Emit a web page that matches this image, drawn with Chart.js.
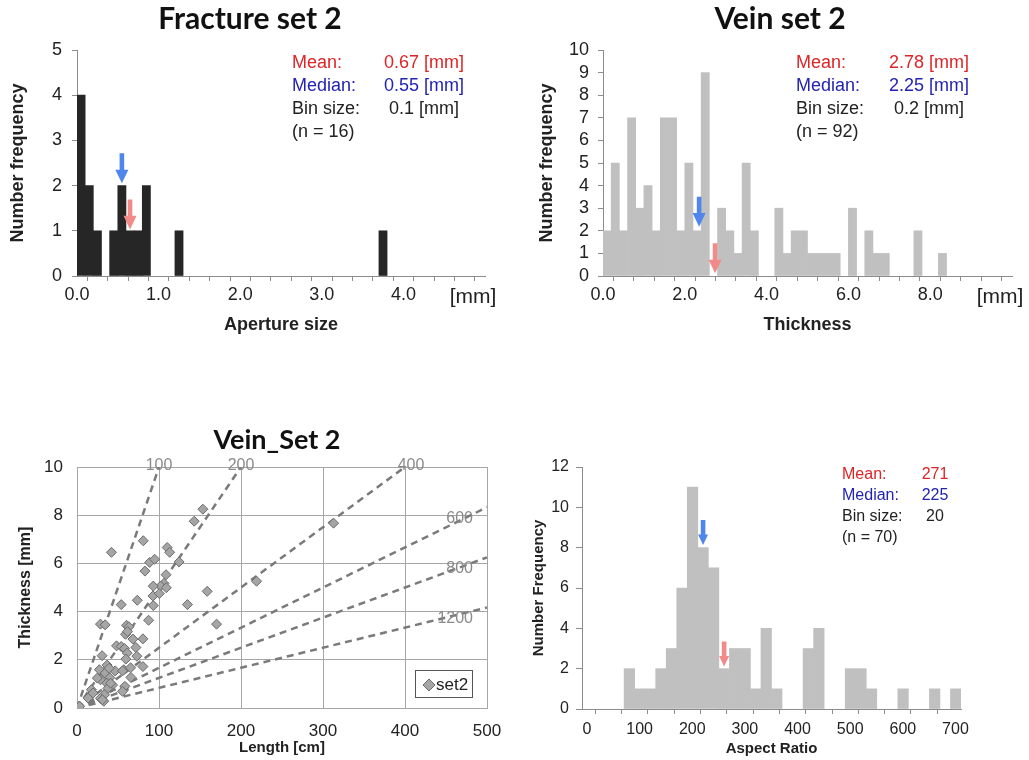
<!DOCTYPE html>
<html>
<head>
<meta charset="utf-8">
<script src="https://cdn.jsdelivr.net/npm/chart.js@4.4.0/dist/chart.umd.min.js"></script>
<style>
body { margin: 0; background: #fff; width: 1029px; height: 760px; position: relative; overflow: hidden; }
canvas { position: absolute; }
</style>
</head>
<body>
<canvas id="frac" width="515" height="340" style="left:0;top:0"></canvas>
<canvas id="vein" width="514" height="340" style="left:515px;top:0"></canvas>
<canvas id="scat" width="515" height="380" style="left:0;top:380px"></canvas>
<canvas id="asp" width="514" height="380" style="left:515px;top:380px"></canvas>
<script>
// Fracture set 2 - aperture histogram (bin 0.1 mm, lower bin edge)
const fracBins = [0.0, 0.1, 0.2, 0.4, 0.5, 0.6, 0.7, 0.8, 1.2, 3.7];
const fracCounts = [4, 2, 1, 1, 2, 1, 1, 2, 1, 1];
const fracStats = ['0.67 [mm]', '0.55 [mm]', '0.1 [mm]'];
const fracN = '(n = 16)';
const fracArrowX = [0.55, 0.65];   // median, mean
const fracArrowTip = [2.05, 1.03];

// Vein set 2 - thickness histogram (bin 0.2 mm)
const veinBins = [0.0, 0.2, 0.4, 0.6, 0.8, 1.0, 1.2, 1.4, 1.6, 1.8, 2.0, 2.2, 2.4, 2.8, 3.0, 3.2,
  3.4, 3.6, 4.2, 4.4, 4.6, 4.8, 5.0, 5.2, 5.4, 5.6, 6.0, 6.4, 6.6, 6.8, 7.6, 8.2];
const veinCounts = [2, 5, 2, 7, 3, 4, 2, 7, 7, 2, 5, 2, 9, 3, 2, 1,
  5, 2, 3, 1, 2, 2, 1, 1, 1, 1, 3, 2, 1, 1, 2, 1];
const veinStats = ['2.78 [mm]', '2.25 [mm]', '0.2 [mm]'];
const veinN = '(n = 92)';
const veinArrowX = [2.35, 2.74];
const veinArrowTip = [2.18, 0.12];

// Vein_Set 2 - length vs thickness
const setLen = [42, 80.8, 82.9, 88.6, 94.7, 110, 113, 124.5, 142.9, 153.5, 108.6, 106, 102, 108.9, 93,
  92.7, 93, 87.3, 73.5, 53.9, 134.7, 158.8, 170.2, 219, 312.9, 28.6, 34.3, 60.4, 63.3, 59.2, 68.2, 80.4,
  48.2, 53.9, 58, 71.8, 61.2, 73, 59.6, 30.6, 80.4, 57.1, 46.5, 65.3, 36.7, 27.3, 28.6, 34.3, 40, 36.3,
  43.3, 65.7, 58.4, 37.6, 33.5, 28.6, 17.6, 19.6, 13.5, 3.3, 32.7, 41, 55.5, 31, 24.8, 55.5, 39.2, 61.6, 100.4];
const setThk = [6.46, 6.94, 5.68, 6.04, 6.17, 6.66, 6.46, 6.06, 7.75, 8.25, 5.53, 5.17, 5.06, 4.99, 5.06,
  4.65, 4.25, 3.64, 4.47, 4.29, 4.29, 4.84, 3.48, 5.26, 7.67, 3.48, 3.45, 3.43, 3.37, 3.06, 2.86, 2.87,
  2.58, 2.55, 2.47, 2.51, 2.28, 2.15, 2.03, 2.17, 1.72, 1.59, 1.54, 1.67, 1.78, 1.59, 1.17, 1.45, 1.26, 1.03,
  0.95, 1.27, 0.90, 0.81, 0.55, 0.40, 0.76, 0.62, 0.41, 0.07, 0.28, 1.03, 0.69, 0.34, 1.24, 1.54, 1.65, 3.17, 4.75];
const ratioNames = ['100', '200', '400', '600', '800', '1200'];
const ratioEndLen = [100, 200, 400, 500, 500, 500];
const ratioEndThk = [10, 10, 10, 8.33, 6.25, 4.17];

// Aspect ratio histogram (bin 20)
const aspBins = [80, 100, 120, 140, 160, 180, 200, 220, 240, 260, 280, 300, 320, 340, 360, 420, 440,
  500, 520, 540, 600, 660, 700];
const aspCounts = [2, 1, 1, 2, 3, 6, 11, 8, 7, 2, 3, 3, 1, 4, 1, 3, 4, 2, 2, 1, 1, 1, 1];
const aspStats = ['271', '225', '20'];
const aspN = '(n = 70)';
const aspArrowX = [230, 270];
const aspArrowTip = [8.13, 2.11];

const statLabels = ['Mean:', 'Median:', 'Bin size:'];

const INK = '#222';
const AXIS = '#8c8c8c';
const RED = '#dd2427';
const BLUE = '#2323b2';
const ARROW_BLUE = '#4f86ec';
const ARROW_RED = '#f28a8a';
const SANS = '"Liberation Sans", Arial, sans-serif';
const TITLE_FONT = 'bold 30px Lato, "Liberation Sans", sans-serif';

Chart.defaults.font.family = SANS;
Chart.defaults.color = INK;

function drawArrow(ctx, x, tipY, len, head, color) {
  const hl = head * 1.05, sw = 2.3;
  const top = tipY - len;
  ctx.fillStyle = color;
  ctx.beginPath();
  ctx.moveTo(x - sw, top);
  ctx.lineTo(x + sw, top);
  ctx.lineTo(x + sw, tipY - hl);
  ctx.lineTo(x + head / 2, tipY - hl);
  ctx.lineTo(x, tipY);
  ctx.lineTo(x - head / 2, tipY - hl);
  ctx.lineTo(x - sw, tipY - hl);
  ctx.closePath();
  ctx.fill();
}

function overlay(o) {
  return {
    id: 'overlay',
    afterDatasetsDraw(chart) {
      const ctx = chart.ctx, xs = chart.scales.x, ys = chart.scales.y;
      ctx.save();
      (o.arrows || []).forEach(a => {
        drawArrow(ctx, xs.getPixelForValue(a.x), ys.getPixelForValue(a.tip), a.len, a.head, a.color);
      });
      if (o.extra) o.extra(chart, ctx, xs, ys);
      ctx.restore();
    },
    afterDraw(chart) {
      const ctx = chart.ctx;
      ctx.save();
      ctx.textBaseline = 'middle';
      if (o.title) {
        ctx.font = o.title.font;
        ctx.fillStyle = '#111';
        ctx.textAlign = 'center';
        ctx.fillText(o.title.text, o.title.x, o.title.y);
      }
      if (o.stats) {
        const s = o.stats;
        ctx.font = s.font;
        const colors = [RED, BLUE, INK];
        statLabels.forEach((lab, i) => {
          const y = s.y + i * s.gap;
          ctx.fillStyle = colors[i];
          ctx.textAlign = 'left';
          ctx.fillText(lab, s.lx, y);
          ctx.textAlign = 'center';
          ctx.fillText(s.values[i], s.vx, y);
        });
        ctx.fillStyle = INK;
        ctx.textAlign = 'left';
        ctx.fillText(s.n, s.lx, s.y + 3 * s.gap);
      }
      if (o.unit) {
        ctx.font = '21px ' + SANS;
        ctx.fillStyle = INK;
        ctx.textAlign = 'center';
        ctx.fillText('[mm]', o.unit.x, o.unit.y);
      }
      ctx.restore();
    }
  };
}

function histDataset(bins, counts, half, color) {
  return {
    type: 'bar',
    data: bins.map((b, i) => ({ x: b + half, y: counts[i] })),
    backgroundColor: color,
    borderWidth: 0,
    barPercentage: 1,
    categoryPercentage: 1
  };
}

function histScales(o) {
  return {
    x: {
      type: 'linear', min: 0, max: o.xMax, offset: false,
      afterFit: s => { s.height = o.xHeight; },
      grid: { drawOnChartArea: false, tickLength: 5, color: AXIS },
      border: { color: AXIS },
      ticks: {
        stepSize: o.xStep, autoSkip: false, includeBounds: false, maxRotation: 0, padding: o.xPad || 3,
        labelOffset: o.labelOffset || 0,
        font: { size: o.tickSize }, color: INK, callback: o.xLabel
      },
      title: {
        display: true, text: o.xTitle, color: INK,
        font: { size: o.titleSize, weight: 'bold' }, padding: { top: 0, bottom: o.xTitlePad }
      }
    },
    y: {
      min: 0, max: o.yMax,
      afterFit: s => { s.width = o.yWidth; },
      grid: { drawOnChartArea: false, tickLength: o.yTick || 5, color: AXIS },
      border: { color: AXIS },
      ticks: { stepSize: o.yStep, autoSkip: false, padding: o.yPad, font: { size: o.tickSize }, color: INK },
      title: {
        display: true, text: o.yTitle, color: INK,
        font: { size: o.titleSize, weight: 'bold' }, padding: { top: o.yTitlePad, bottom: 0 }
      }
    }
  };
}

const common = {
  responsive: false,
  animation: false,
  devicePixelRatio: 1,
  plugins: { legend: { display: false }, tooltip: { enabled: false } }
};

// ---- Fracture set 2
new Chart(document.getElementById('frac'), {
  type: 'bar',
  data: { datasets: [histDataset(fracBins, fracCounts, 0.05, '#262626')] },
  options: Object.assign({}, common, {
    layout: { padding: { top: 50, left: 0, right: 30, bottom: 0 } },
    scales: histScales({
      xMax: 5, xStep: 0.25, xHeight: 64, xTitle: 'Aperture size', xTitlePad: 4,
      xLabel: v => (Number.isInteger(v) && v < 5) ? v.toFixed(1) : '',
      yMax: 5, yStep: 1, yWidth: 77, yPad: 10, yTitle: 'Number frequency', yTitlePad: 7,
      tickSize: 18, titleSize: 18
    })
  }),
  plugins: [overlay({
    title: { text: 'Fracture set 2', x: 250, y: 19, font: TITLE_FONT },
    stats: { font: '18px ' + SANS, lx: 292, vx: 424, y: 63, gap: 23, values: fracStats, n: fracN },
    unit: { x: 473, y: 297 },
    arrows: [
      { x: fracArrowX[0], tip: fracArrowTip[0], len: 30, head: 13, color: ARROW_BLUE },
      { x: fracArrowX[1], tip: fracArrowTip[1], len: 30, head: 13, color: ARROW_RED }
    ]
  })]
});

// ---- Vein set 2
new Chart(document.getElementById('vein'), {
  type: 'bar',
  data: { datasets: [histDataset(veinBins, veinCounts, 0.1, '#c0c0c0')] },
  options: Object.assign({}, common, {
    layout: { padding: { top: 50, left: 0, right: 17, bottom: 0 } },
    scales: histScales({
      xMax: 10, xStep: 0.5, xHeight: 64, xTitle: 'Thickness', xTitlePad: 4,
      xLabel: v => (Number.isInteger(v) && v % 2 === 0 && v < 10) ? v.toFixed(1) : '',
      yMax: 10, yStep: 1, yWidth: 88, yPad: 9, yTitle: 'Number frequency', yTitlePad: 21,
      tickSize: 18, titleSize: 18
    })
  }),
  plugins: [overlay({
    title: { text: 'Vein set 2', x: 265, y: 19, font: TITLE_FONT },
    stats: { font: '18px ' + SANS, lx: 281, vx: 414, y: 63, gap: 23, values: veinStats, n: veinN },
    unit: { x: 485, y: 297 },
    arrows: [
      { x: veinArrowX[0], tip: veinArrowTip[0], len: 30, head: 13, color: ARROW_BLUE },
      { x: veinArrowX[1], tip: veinArrowTip[1], len: 30, head: 13, color: ARROW_RED }
    ]
  })]
});

// ---- Vein_Set 2 scatter
const GRID = '#a6a6a6';
const ratioSets = ratioNames.map((name, i) => ({
  type: 'line',
  label: name,
  data: [{ x: 0, y: 0 }, { x: ratioEndLen[i], y: ratioEndThk[i] }],
  borderColor: '#7a7a7a',
  borderWidth: 2.5,
  borderDash: [7, 5],
  pointRadius: 0,
  fill: false
}));

new Chart(document.getElementById('scat'), {
  type: 'scatter',
  data: {
    datasets: [{
      label: 'set2',
      data: setLen.map((l, i) => ({ x: l, y: setThk[i] })),
      pointStyle: 'rectRot',
      pointRadius: 5,
      backgroundColor: '#a5a5a5',
      borderColor: '#6a6a6a',
      borderWidth: 1
    }].concat(ratioSets)
  },
  options: Object.assign({}, common, {
    layout: { padding: { top: 87, left: 0, right: 28, bottom: 0 } },
    scales: {
      x: {
        type: 'linear', min: 0, max: 500,
        afterFit: s => { s.height = 52; },
        grid: { color: GRID, drawTicks: false },
        border: { color: GRID },
        ticks: { stepSize: 100, padding: 13, font: { size: 17 }, color: INK },
        title: { display: true, text: 'Length [cm]', color: INK, font: { size: 15, weight: 'bold' }, padding: { top: 0, bottom: 3 } }
      },
      y: {
        min: 0, max: 10,
        afterFit: s => { s.width = 77; },
        grid: { color: GRID, drawTicks: false },
        border: { color: GRID },
        ticks: { stepSize: 2, padding: 14, font: { size: 17 }, color: INK },
        title: { display: true, text: 'Thickness [mm]', color: INK, font: { size: 16, weight: 'bold' }, padding: { top: 16, bottom: 0 } }
      }
    }
  }),
  plugins: [overlay({
    title: { text: 'Vein_Set 2', x: 277, y: 60, font: 'bold 27px Lato, "Liberation Sans", sans-serif' },
    extra(chart, ctx, xs, ys) {
      // ratio labels at the line ends
      ctx.font = '16px ' + SANS;
      ctx.fillStyle = '#8a8a8a';
      ctx.textBaseline = 'middle';
      ratioNames.forEach((name, i) => {
        const px = xs.getPixelForValue(ratioEndLen[i]);
        const py = ys.getPixelForValue(ratioEndThk[i]);
        if (ratioEndThk[i] >= 10) {
          ctx.textAlign = 'center';
          ctx.fillText(name, px + (i === 2 ? 6 : 0), py - 1);
        } else {
          ctx.textAlign = 'right';
          ctx.fillText(name, px - 14, py + 11);
        }
      });
      // legend box
      ctx.fillStyle = '#fff';
      ctx.fillRect(415, 290, 58, 28);
      ctx.strokeStyle = '#555';
      ctx.lineWidth = 1;
      ctx.strokeRect(415.5, 290.5, 57, 27);
      ctx.fillStyle = '#a5a5a5';
      ctx.strokeStyle = '#6a6a6a';
      ctx.beginPath();
      ctx.moveTo(429, 299); ctx.lineTo(435, 305); ctx.lineTo(429, 311); ctx.lineTo(423, 305);
      ctx.closePath(); ctx.fill(); ctx.stroke();
      ctx.fillStyle = INK;
      ctx.font = '17px ' + SANS;
      ctx.textAlign = 'left';
      ctx.fillText('set2', 436, 305);
    }
  })]
});

// ---- Aspect ratio
new Chart(document.getElementById('asp'), {
  type: 'bar',
  data: { datasets: [histDataset(aspBins, aspCounts, 10, '#c0c0c0')] },
  options: Object.assign({}, common, {
    layout: { padding: { top: 87, left: 0, right: 68, bottom: 0 } },
    scales: histScales({
      xMax: 720, xStep: 50, xHeight: 51, xTitle: 'Aspect Ratio', xTitlePad: 2, xPad: 6, labelOffset: 5,
      xLabel: v => (v % 100 === 0) ? String(v) : '',
      yMax: 12, yStep: 2, yWidth: 67, yPad: 7, yTick: 6, yTitle: 'Number Frequency', yTitlePad: 15,
      tickSize: 16, titleSize: 15
    })
  }),
  plugins: [overlay({
    stats: { font: '16px ' + SANS, lx: 327, vx: 420, y: 95, gap: 20.7, values: aspStats, n: aspN },
    arrows: [
      { x: aspArrowX[0], tip: aspArrowTip[0], len: 25, head: 10, color: ARROW_BLUE },
      { x: aspArrowX[1], tip: aspArrowTip[1], len: 25, head: 10, color: ARROW_RED }
    ]
  })]
});
</script>
</body>
</html>
